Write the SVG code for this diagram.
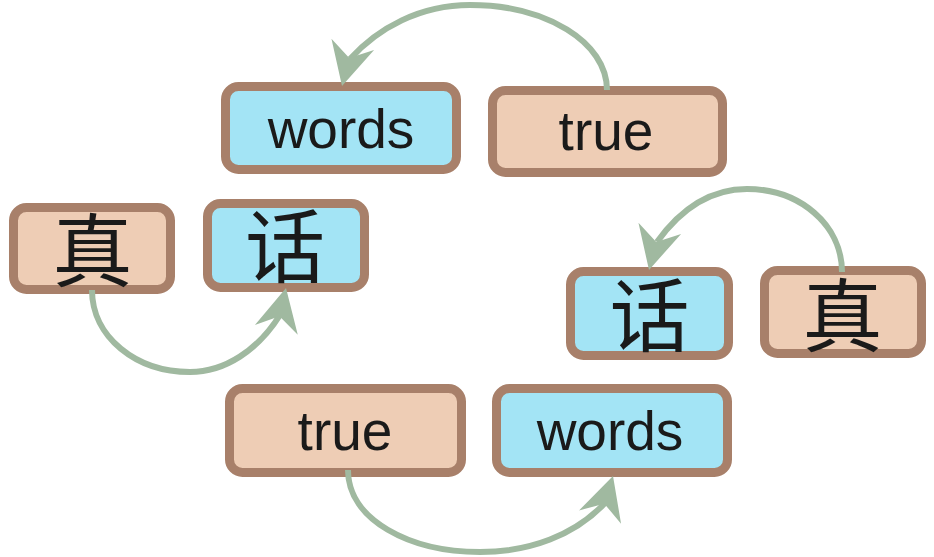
<svg xmlns="http://www.w3.org/2000/svg" xmlns:xlink="http://www.w3.org/1999/xlink" width="934" height="557" viewBox="0 0 934 557">
  <style>
    .box { stroke: #a8806a; stroke-width: 9; }
    .en { fill: #eecdb5; }
    .zh { fill: #a3e4f5; }
    .lbl { font-family: "Liberation Sans", Arial, sans-serif; font-size: 55px; fill: #1a1a1a; text-anchor: middle; }
    .cjk { font-family: "Noto Sans CJK SC", "Noto Sans CJK TC", sans-serif; font-size: 80px; fill: #1a1a1a; text-anchor: middle; }
    .shaft { fill: none; stroke: #a0b9a0; stroke-width: 6; }
    .head { fill: #a0b9a0; }
  </style>
  <defs>
    <path id="arrowhead" d="M0,0 L-43,-22 L-29,0 L-43,22 Z"/>
  </defs>
  <rect width="934" height="557" fill="#ffffff"/>

  <g id="node-words-top">
    <rect class="box zh" x="225.5" y="86.5" width="231" height="83" rx="13"/>
    <text class="lbl" x="341" y="148">words</text>
  </g>
  <g id="node-true-top">
    <rect class="box en" x="492.5" y="90.5" width="230" height="82" rx="13"/>
    <text class="lbl" x="606" y="150">true</text>
  </g>
  <g id="node-zhen-left">
    <rect class="box en" x="13.5" y="207.5" width="157" height="82" rx="13"/>
    <text class="cjk" x="92.5" y="280">真</text>
  </g>
  <g id="node-hua-left">
    <rect class="box zh" x="207.5" y="203.5" width="157" height="84" rx="13"/>
    <text class="cjk" x="285" y="276">话</text>
  </g>
  <g id="node-hua-right">
    <rect class="box zh" x="570.5" y="271.5" width="158" height="84" rx="13"/>
    <text class="cjk" x="649.5" y="345">话</text>
  </g>
  <g id="node-zhen-right">
    <rect class="box en" x="764.5" y="270.5" width="157" height="83" rx="13"/>
    <text class="cjk" x="842.5" y="345">真</text>
  </g>
  <g id="node-true-bottom">
    <rect class="box en" x="229.5" y="388.5" width="232" height="84" rx="13"/>
    <text class="lbl" x="345" y="450">true</text>
  </g>
  <g id="node-words-bottom">
    <rect class="box zh" x="496.5" y="388.5" width="231" height="84" rx="13"/>
    <text class="lbl" x="610" y="450">words</text>
  </g>

  <g id="connectors">
    <path class="shaft" d="M607,90 C607,42 546,5 470,5 C420,5 378,28 350,59"/>
    <use class="head" xlink:href="#arrowhead" transform="translate(342,86) rotate(104.5)"/>

    <path class="shaft" d="M92,290 C92,337 136,372 190,372 C225,372 258,350 280,315"/>
    <use class="head" xlink:href="#arrowhead" transform="translate(286,288) rotate(-77)"/>

    <path class="shaft" d="M842,272 C842,225 800,189 747,189 C710,189 680,210 657,242"/>
    <use class="head" xlink:href="#arrowhead" transform="translate(649,270) rotate(104.5)"/>

    <path class="shaft" d="M348,470 C348,520 410,552 480,552 C530,552 575,535 605,503"/>
    <use class="head" xlink:href="#arrowhead" transform="translate(613,476) rotate(-72.5)"/>
  </g>
</svg>
